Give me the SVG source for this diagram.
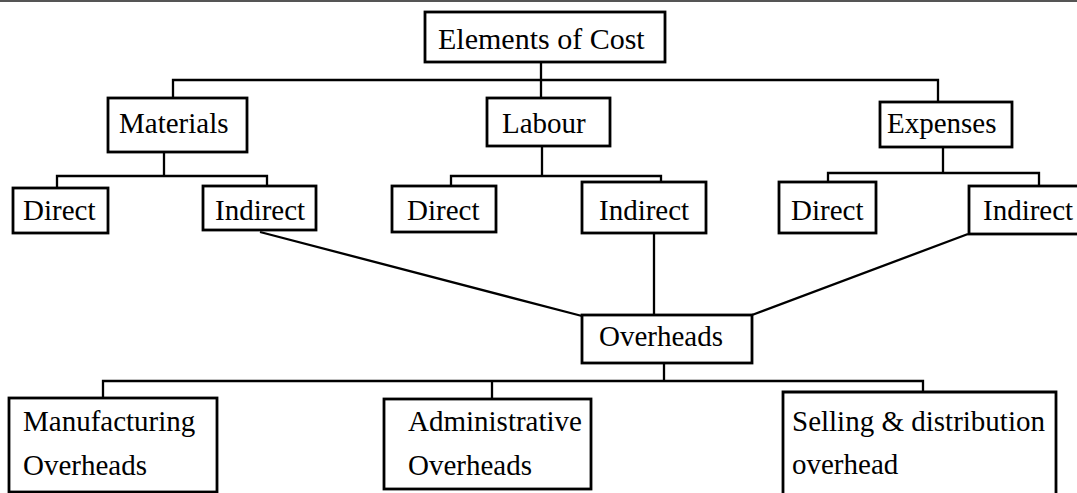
<svg xmlns="http://www.w3.org/2000/svg" width="1077" height="493" viewBox="0 0 1077 493">
<style>
.box{fill:#fff;stroke:#000;stroke-width:2.8}
.t{font-family:"Liberation Serif","Times New Roman",serif;font-size:29px;fill:#000}
.title{font-size:30px}
.c{fill:none;stroke:#000;stroke-width:2.3}
</style>
<rect width="1077" height="493" fill="#fff"/>
<line x1="0" y1="1" x2="1077" y2="1" stroke="#555" stroke-width="2"/>
<g id="connectors">
<path class="c" d="M541 62V98M173 98V80H938V102"/>
<path class="c" d="M164 152V176M57 188V176H267V186"/>
<path class="c" d="M542 146V176M451 186V176H661V182"/>
<path class="c" d="M943 147V173M828 182V173H1039V186"/>
<path class="c" d="M260 232L582 316M654 233V316M968 234L752 315"/>
<path class="c" d="M664 363V381M103 398V381H923V392M492 381V399"/>
</g>
<g id="n-elements"><rect class="box" x="425" y="12" width="240" height="50"/><text class="t title" x="438" y="49">Elements of Cost</text></g>
<g id="n-materials"><rect class="box" x="108" y="98" width="139" height="54"/><text class="t" x="119" y="133">Materials</text></g>
<g id="n-labour"><rect class="box" x="487" y="98" width="123" height="48"/><text class="t" x="502" y="133">Labour</text></g>
<g id="n-expenses"><rect class="box" x="880" y="102" width="132" height="45"/><text class="t" x="887" y="133">Expenses</text></g>
<g id="n-mat-direct"><rect class="box" x="13" y="188" width="95" height="45"/><text class="t" x="23" y="220">Direct</text></g>
<g id="n-mat-indirect"><rect class="box" x="203" y="186" width="113" height="44"/><text class="t" x="215" y="220">Indirect</text></g>
<g id="n-lab-direct"><rect class="box" x="392" y="186" width="104" height="46"/><text class="t" x="407" y="220">Direct</text></g>
<g id="n-lab-indirect"><rect class="box" x="582" y="182" width="124" height="51"/><text class="t" x="599" y="220">Indirect</text></g>
<g id="n-exp-direct"><rect class="box" x="779" y="182" width="97" height="51"/><text class="t" x="791" y="220">Direct</text></g>
<g id="n-exp-indirect"><rect class="box" x="969" y="186" width="120" height="48"/><text class="t" x="983" y="220">Indirect</text></g>
<g id="n-overheads"><rect class="box" x="582" y="315" width="170" height="48"/><text class="t" x="599" y="346">Overheads</text></g>
<g id="n-manufacturing"><rect class="box" x="9" y="398" width="208" height="94"/><text class="t" x="23" y="431">Manufacturing</text><text class="t" x="23" y="475">Overheads</text></g>
<g id="n-administrative"><rect class="box" x="384" y="399" width="207" height="90"/><text class="t" x="408" y="431">Administrative</text><text class="t" x="408" y="475">Overheads</text></g>
<g id="n-selling"><path class="box" d="M783 496V392H1056V496"/><text class="t" x="792" y="431">Selling &amp; distribution</text><text class="t" x="792" y="474">overhead</text></g>
</svg>
